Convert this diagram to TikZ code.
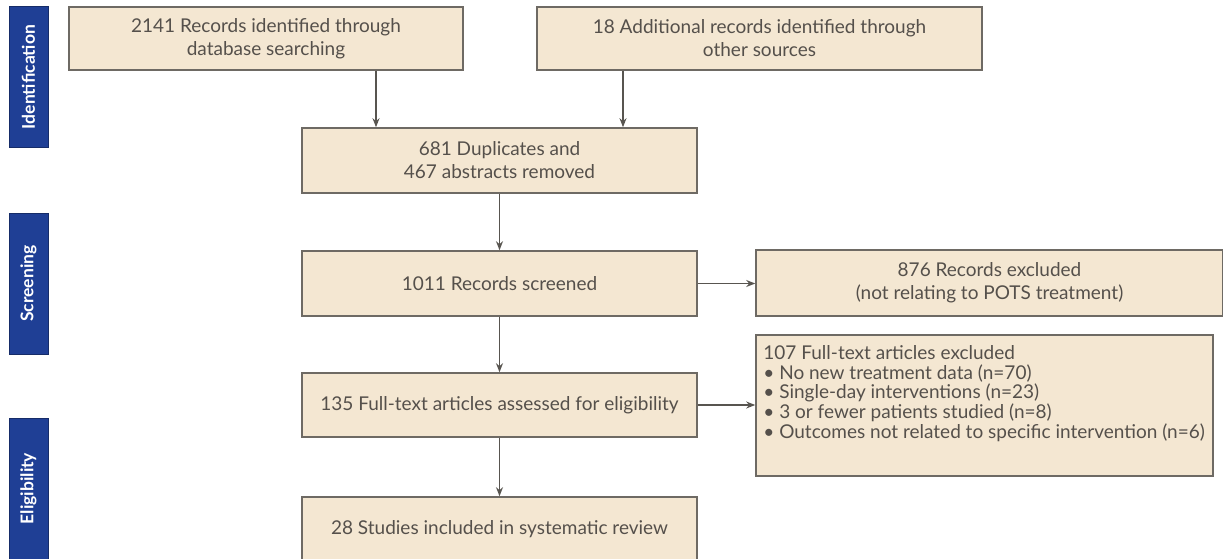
\documentclass[tikz,border=0pt]{standalone}
\usepackage{fontspec}
\setmainfont{Lato}
\usetikzlibrary{arrows.meta,calc}
\definecolor{boxfill}{HTML}{F4E7D2}
\definecolor{boxline}{HTML}{6E6A64}
\definecolor{txt}{HTML}{55504B}
\definecolor{barblue}{HTML}{1F3F95}
\tikzset{
  flowbox/.style={draw=boxline, line width=1.6pt, fill=boxfill, text=txt, inner sep=0pt,
    font=\fontsize{19}{23}\selectfont, align=center},
  stagebar/.style={fill=barblue, draw=barblue!70!black, line width=0.8pt, text=white, inner sep=0pt,
    font=\fontsize{17.5}{18}\selectfont\bfseries, minimum width=39pt, minimum height=141pt},
  arr/.style={draw=boxline!80!black, line width=1.5pt, -{Stealth[length=9pt,width=7pt]}},
  listtext/.style={text=txt, inner sep=0pt, align=left, font=\fontsize{19}{19.7}\selectfont}
}
\begin{document}
\begin{tikzpicture}[x=1pt,y=-1pt]
\useasboundingbox (0,0) rectangle (1223,559);
\fill[white] (0,0) rectangle (1223,559);
% stage bars
\node[stagebar] (sid) at (28.5,77) {\rotatebox{90}{Identification}};
\node[stagebar] (ssc) at (28.5,283.5) {\rotatebox{90}{Screening}};
\node[stagebar] (sel) at (28.5,488.5) {\rotatebox{90}{Eligibility}};
% boxes
\node[flowbox, minimum width=394pt, minimum height=63pt] (db) at (266,38.5)
  {2141 Records identified through\\database searching};
\node[flowbox, minimum width=445pt, minimum height=63pt] (oth) at (759.5,38.5)
  {18 Additional records identified through\\other sources};
\node[flowbox, minimum width=395pt, minimum height=65pt] (dup) at (499.5,160.5)
  {681 Duplicates and\\467 abstracts removed};
\node[flowbox, minimum width=395pt, minimum height=65pt] (scr) at (499.5,283.5)
  {1011 Records screened};
\node[flowbox, minimum width=467pt, minimum height=66pt] (exc1) at (989.5,283)
  {876 Records excluded\\(not relating to POTS treatment)};
\node[flowbox, minimum width=395pt, minimum height=64pt] (full) at (499.5,405)
  {135 Full-text articles assessed for eligibility};
\node[flowbox, minimum width=457pt, minimum height=141pt] (exc2) at (984.5,405.5) {};
\node[listtext, anchor=north west] (exc2t) at ($(exc2.north west)+(8,11)$)
  {107 Full-text articles excluded\\
   \textbullet\ No new treatment data (n=70)\\
   \textbullet\ Single-day interventions (n=23)\\
   \textbullet\ 3 or fewer patients studied (n=8)\\
   \textbullet\ Outcomes not related to specific intervention (n=6)};
\node[flowbox, minimum width=395pt, minimum height=64pt] (inc) at (499.5,529)
  {28 Studies included in systematic review};
% connectors
\coordinate (xa) at (376,0);
\coordinate (xb) at (623,0);
\draw[arr] (db.south -| xa) -- (dup.north -| xa);
\draw[arr] (oth.south -| xb) -- (dup.north -| xb);
\draw[arr] (dup) -- (scr);
\draw[arr] (scr) -- (full);
\draw[arr] (full) -- (inc);
\draw[arr] (scr.east) -- (scr.east -| exc1.west);
\draw[arr] (full.east) -- (full.east -| exc2.west);
\end{tikzpicture}
\end{document}
